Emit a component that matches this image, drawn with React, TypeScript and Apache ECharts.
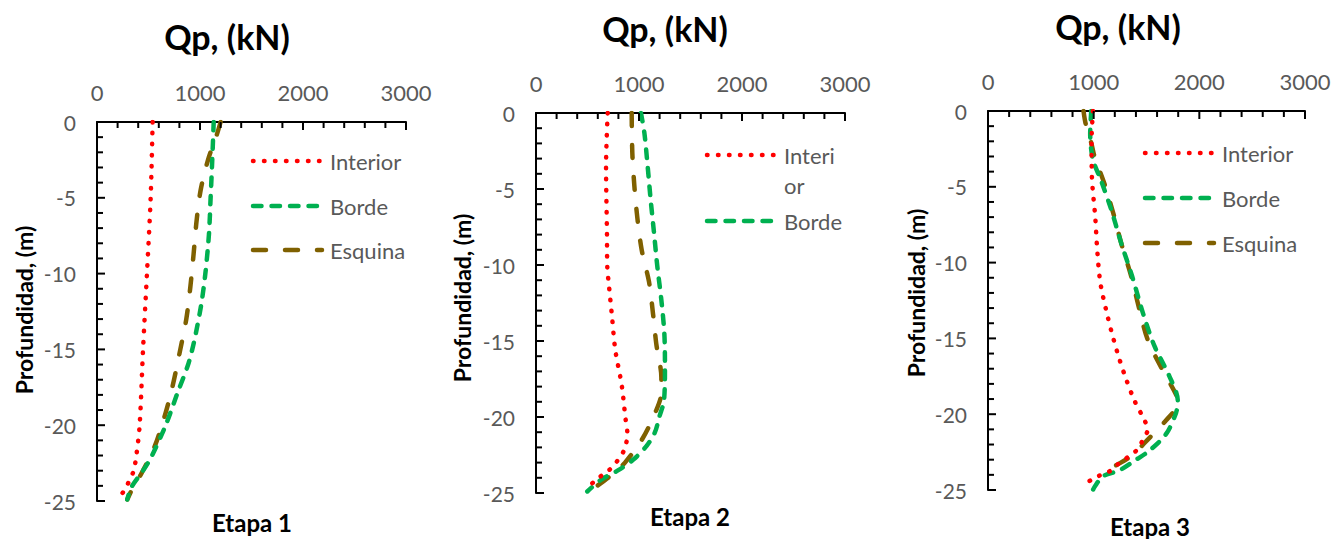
import React, { useEffect, useRef } from "react";
import * as echarts from "echarts";

// ---------- data ----------
const stageLabels = ["Etapa 1", "Etapa 2", "Etapa 3"];
const seriesNames = ["Interior", "Borde", "Esquina"];
const xTitle = "Qp, (kN)";
const yTitle = "Profundidad, (m)";
const xMin = 0;
const xMax = 3000;
const xInterval = 1000;
const xMinorStep = 200;
const yMin = -25;
const yMax = 0;
const yInterval = 5;
const yMinorStep = 1;

// Etapa 1
const e1InteriorDepth = [0, -5, -10, -15, -20, -22, -23, -23.7, -24.4, -24.8];
const e1InteriorQp = [540, 521, 485, 447, 414, 382, 356, 311, 256, 197];
const e1BordeDepth = [0, -3, -5, -7.4, -10, -12, -14, -15, -16.1, -17.9, -20, -22.1, -23, -24.1, -24.9];
const e1BordeQp = [1133, 1116, 1103, 1087, 1052, 1013, 958, 925, 880, 780, 667, 527, 447, 333, 294];
const e1EsquinaDepth = [0, -0.8, -2.5, -4.5, -6.7, -8.7, -10.9, -13, -15, -17.5, -19.4, -21.4, -23.2, -24.1, -24.9];
const e1EsquinaQp = [1200, 1165, 1078, 1006, 964, 938, 906, 867, 809, 731, 657, 560, 430, 350, 294];

// Etapa 2
const e2InteriorDepth = [0, -3.5, -7.9, -10.1, -11.4, -13.4, -15.6, -17.9, -20, -21.1, -22.1, -22.8, -23.4, -23.8, -24.2, -24.7];
const e2InteriorQp = [696, 680, 689, 692, 709, 738, 770, 832, 867, 887, 861, 799, 725, 647, 573, 492];
const e2BordeDepth = [0, -1.3, -3.5, -5.7, -7.9, -10.1, -12.3, -14.5, -16.7, -18.9, -20, -21, -21.9, -22.8, -23.5, -24.1, -24.9];
const e2BordeQp = [1019, 1052, 1084, 1113, 1146, 1178, 1217, 1246, 1252, 1243, 1197, 1155, 1074, 945, 799, 637, 498];
const e2EsquinaDepth = [0, -2.6, -4.8, -6.9, -9, -11.1, -13.2, -15.2, -17.4, -18.4, -19.6, -21.4, -23, -23.9, -24.9];
const e2EsquinaQp = [929, 935, 955, 984, 1026, 1097, 1136, 1168, 1217, 1217, 1165, 1036, 864, 718, 518];

// Etapa 3
const e3InteriorDepth = [0, -2, -4.3, -7, -9.2, -11.4, -13.6, -15.1, -16.4, -17.7, -19.1, -20.4, -21, -21.7, -22.3, -22.8, -23.2, -23.7, -24, -24.3, -24.7];
const e3InteriorQp = [993, 980, 983, 1015, 1034, 1065, 1134, 1190, 1245, 1308, 1386, 1481, 1512, 1465, 1418, 1330, 1245, 1166, 1071, 986, 898];
const e3BordeDepth = [0, -1.5, -3.2, -4.6, -6.5, -8.7, -10.9, -13.3, -15.5, -17.5, -19.1, -19.9, -21.3, -22.4, -23, -23.7, -24.1, -24.8, -25];
const e3BordeQp = [977, 967, 993, 1071, 1166, 1260, 1364, 1465, 1575, 1717, 1796, 1780, 1686, 1528, 1402, 1245, 1087, 1008, 993];
const e3EsquinaDepth = [0, -0.8, -2.1, -3, -4.8, -6.8, -8.7, -10.9, -13.1, -15.1, -16.9, -18.8, -19.3, -20.4, -21.9, -22.7, -23.5, -24];
const e3EsquinaQp = [904, 923, 977, 1008, 1102, 1188, 1260, 1355, 1433, 1512, 1638, 1786, 1796, 1686, 1481, 1370, 1181, 1071];

const stageData = [
  [[e1InteriorQp, e1InteriorDepth], [e1BordeQp, e1BordeDepth], [e1EsquinaQp, e1EsquinaDepth]],
  [[e2InteriorQp, e2InteriorDepth], [e2BordeQp, e2BordeDepth], [e2EsquinaQp, e2EsquinaDepth]],
  [[e3InteriorQp, e3InteriorDepth], [e3BordeQp, e3BordeDepth], [e3EsquinaQp, e3EsquinaDepth]],
];

// ---------- styles / layout ----------
const FONT = "Lato, 'Open Sans', sans-serif";
const GRAY = "#595959";
const seriesStyles = [
  { color: "#FF0000", dash: [0.5, 10.5] },
  { color: "#00B050", dash: [8.5, 10] },
  { color: "#7F6000", dash: [13, 19] },
];
const LINE_W = 4.5;
const MAJOR_LEN = 8;
const MINOR_LEN = 6;
const TICK_W = 2;

const grids = [
  { left: 97, top: 122, width: 309, height: 379 },
  { left: 536, top: 113, width: 309, height: 380 },
  { left: 988, top: 111, width: 317, height: 379 },
];
const titlePos = [{ x: 227, y: 36 }, { x: 665, y: 28 }, { x: 1118, y: 26 }];
const yTitlePos = [{ x: 24, y: 310 }, { x: 462, y: 298 }, { x: 916, y: 293 }];
const stagePos = [{ x: 252, y: 522 }, { x: 690, y: 516 }, { x: 1150, y: 526 }];
const legendLayouts = [
  { x1: 253, x2: 322, tx: 330, rows: [{ s: 0, y: 161, text: "Interior" }, { s: 1, y: 206, text: "Borde" }, { s: 2, y: 250, text: "Esquina" }] },
  { x1: 707, x2: 777, tx: 784, rows: [{ s: 0, y: 155, text: "Interi\nor" }, { s: 1, y: 221, text: "Borde" }] },
  { x1: 1145, x2: 1214, tx: 1222, rows: [{ s: 0, y: 153, text: "Interior" }, { s: 1, y: 198, text: "Borde" }, { s: 2, y: 243, text: "Esquina" }] },
];

export default function App() {
  const ref = useRef<HTMLDivElement>(null);

  useEffect(() => {
    if (!ref.current) return;
    const chart = echarts.init(ref.current, null, { renderer: "svg" });
    const xAxes: any[] = [];
    const yAxes: any[] = [];
    const series: any[] = [];
    const graphic: any[] = [];

    grids.forEach((g, i) => {
      xAxes.push({
        type: "value", gridIndex: i, position: "top", min: xMin, max: xMax, interval: xInterval,
        axisLine: { show: true, onZero: false, lineStyle: { color: "#000", width: 2 } },
        axisTick: { show: false },
        axisLabel: { color: GRAY, fontSize: 22, fontFamily: FONT, margin: 19, formatter: (v: number) => String(v) },
        splitLine: { show: false },
      });
      yAxes.push({
        type: "value", gridIndex: i, min: yMin, max: yMax, interval: yInterval,
        axisLine: { show: true, onZero: false, lineStyle: { color: "#000", width: 2 } },
        axisTick: { show: false },
        axisLabel: { color: GRAY, fontSize: 21, fontFamily: FONT, margin: 21, formatter: (v: number) => String(v) },
        splitLine: { show: false },
      });
      stageData[i].forEach((pair, s) => {
        const [qp, depth] = pair;
        series.push({
          type: "line", name: seriesNames[s], xAxisIndex: i, yAxisIndex: i,
          data: qp.map((v, k) => [v, depth[k]]),
          showSymbol: false, symbol: "none", smooth: 0.3,
          lineStyle: { color: seriesStyles[s].color, width: LINE_W, type: seriesStyles[s].dash, cap: "round", join: "round" },
          z: 3 - s,
        });
      });
      graphic.push({ type: "text", x: titlePos[i].x, y: titlePos[i].y, style: { text: xTitle, fill: "#000", font: `bold 34px ${FONT}`, align: "center", verticalAlign: "middle" } });
      graphic.push({ type: "text", x: yTitlePos[i].x, y: yTitlePos[i].y, rotation: Math.PI / 2, style: { text: yTitle, fill: "#000", font: `bold 23px ${FONT}`, align: "center", verticalAlign: "middle" } });
      graphic.push({ type: "text", x: stagePos[i].x, y: stagePos[i].y, style: { text: stageLabels[i], fill: "#000", font: `bold 24px ${FONT}`, align: "center", verticalAlign: "middle" } });
      const L = legendLayouts[i];
      L.rows.forEach((r) => {
        const st = seriesStyles[r.s];
        const wrapped = r.text.includes("\n");
        graphic.push({ type: "line", shape: { x1: L.x1, y1: r.y, x2: L.x2, y2: r.y }, style: { stroke: st.color, lineWidth: LINE_W, lineDash: st.dash, lineCap: "round" } });
        graphic.push({ type: "text", x: L.tx, y: wrapped ? r.y - 15 : r.y, style: { text: r.text, fill: GRAY, font: `22px ${FONT}`, align: "left", verticalAlign: wrapped ? "top" : "middle", lineHeight: 30 } });
      });
    });

    chart.setOption({
      animation: false,
      backgroundColor: "#fff",
      grid: grids.map((g) => ({ ...g, containLabel: false })),
      xAxis: xAxes, yAxis: yAxes, series,
    });

    // inside axis ticks as filled rects, placed through each grid's own scales
    grids.forEach((g, i) => {
      for (let v = xMin; v <= xMax; v += xMinorStep) {
        const p = chart.convertToPixel({ gridIndex: i }, [v, yMax]) as number[];
        const len = v % xInterval === 0 ? MAJOR_LEN : MINOR_LEN;
        graphic.push({ type: "rect", z: 100, shape: { x: p[0] - TICK_W / 2, y: p[1], width: TICK_W, height: len }, style: { fill: "#000" } });
      }
      for (let v = yMin; v <= yMax; v += yMinorStep) {
        const p = chart.convertToPixel({ gridIndex: i }, [xMin, v]) as number[];
        const len = v % yInterval === 0 ? MAJOR_LEN : MINOR_LEN;
        graphic.push({ type: "rect", z: 100, shape: { x: p[0], y: p[1] - TICK_W / 2, width: len, height: TICK_W }, style: { fill: "#000" } });
      }
    });

    chart.setOption({ graphic });
    return () => chart.dispose();
  }, []);

  return <div ref={ref} style={{ position: "absolute", left: 0, top: 0, width: 1341, height: 539 }} />;
}
